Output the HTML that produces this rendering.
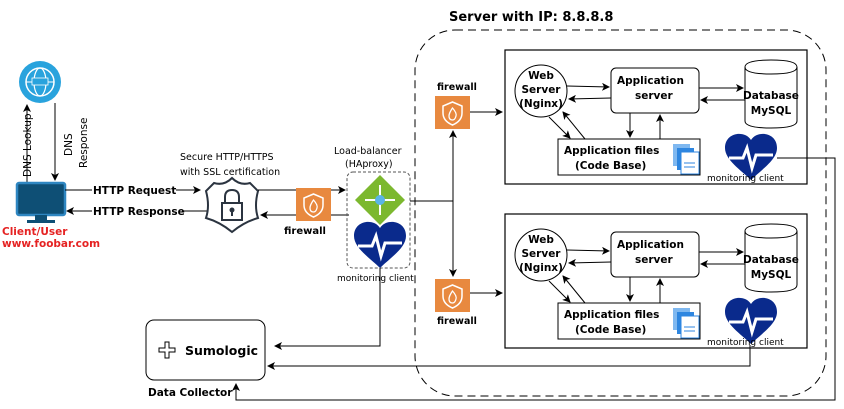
<!DOCTYPE html>
<html><head><meta charset="utf-8"><style>
html,body{margin:0;padding:0;background:#fff;}
svg{display:block;}
text{font-family:"DejaVu Sans","Liberation Sans",sans-serif;font-size:10px;fill:#000;}
.b{font-weight:bold;}
</style></head><body>
<svg width="844" height="409" viewBox="0 0 844 409" xmlns="http://www.w3.org/2000/svg">
<defs>
<marker id="a" markerWidth="8" markerHeight="8" refX="7" refY="4" orient="auto" markerUnits="userSpaceOnUse"><path d="M0,0 L8,4 L0,8 L2,4 z" fill="#000"/></marker>
<g id="fw"><rect x="0" y="0" width="35" height="33" fill="#e8893f"/><path d="M17.5,6 L27,10 L27,17 Q27,25 17.5,29 Q8,25 8,17 L8,10 Z" fill="none" stroke="#fff" stroke-width="1.5"/><path d="M17.5,12 Q22,17 21,20 Q20,24 17.5,24 Q14,24 14,20 Q14,17 17.5,12 Z" fill="none" stroke="#fff" stroke-width="1.3"/></g>
<g id="heart"><path d="M0,-14 C-6,-24 -26,-22 -26,-6 C-26,6 -10,16 0,26 C10,16 26,6 26,-6 C26,-22 6,-24 0,-14 Z" fill="#0a2a8c"/><path d="M-22,4 L-8,4 L-4,-6 L1,14 L5,1 L22,1" fill="none" stroke="#fff" stroke-width="3"/></g>
<g id="srv">
<rect x="0" y="0" width="302" height="134" fill="#fff" stroke="#000" stroke-width="1.2"/>
<circle cx="36" cy="41" r="26" fill="#fff" stroke="#000"/>
<text x="36" y="29" text-anchor="middle" class="b" style="font-size:10.5px">Web</text>
<text x="36" y="43" text-anchor="middle" class="b" style="font-size:10.5px">Server</text>
<text x="36" y="57" text-anchor="middle" class="b" style="font-size:10.5px">(Nginx)</text>
<rect x="106" y="18" width="88" height="45" rx="5" fill="#fff" stroke="#000"/>
<text x="112" y="34" class="b" style="font-size:10.5px">Application</text>
<text x="130" y="49" class="b" style="font-size:10.5px">server</text>
<path d="M240,17 Q240,10 266,10 Q292,10 292,17 L292,71 Q292,78 266,78 Q240,78 240,71 Z" fill="#fff" stroke="#000"/>
<path d="M240,17 Q240,24 266,24 Q292,24 292,17" fill="none" stroke="#000"/>
<text x="266" y="49" text-anchor="middle" class="b" style="font-size:10.5px">Database</text>
<text x="266" y="64" text-anchor="middle" class="b" style="font-size:10.5px">MySQL</text>
<rect x="53" y="89" width="142" height="36" fill="#fff" stroke="#000"/>
<text x="59" y="104" class="b" style="font-size:10.5px">Application files</text>
<text x="70" y="119" class="b" style="font-size:10.5px">(Code Base)</text>
<rect x="168" y="94" width="17" height="22" fill="#7fb8f0"/><rect x="172" y="98" width="17" height="22" fill="#2e86e0"/><rect x="176" y="102" width="18" height="22" fill="#fff" stroke="#2e86e0"/><line x1="179" y1="113" x2="190" y2="113" stroke="#2e86e0"/><line x1="179" y1="117" x2="190" y2="117" stroke="#2e86e0"/>
<line x1="62" y1="36" x2="104" y2="37" stroke="#000" marker-end="url(#a)"/>
<line x1="106" y1="48" x2="64" y2="49" stroke="#000" marker-end="url(#a)"/>
<line x1="194" y1="38" x2="238" y2="38" stroke="#000" marker-end="url(#a)"/>
<line x1="240" y1="50" x2="196" y2="50" stroke="#000" marker-end="url(#a)"/>
<line x1="125" y1="63" x2="125" y2="87" stroke="#000" marker-end="url(#a)"/>
<line x1="155" y1="89" x2="155" y2="65" stroke="#000" marker-end="url(#a)"/>
<line x1="44" y1="67" x2="65" y2="88" stroke="#000" marker-end="url(#a)"/>
<line x1="80" y1="89" x2="58" y2="62" stroke="#000" marker-end="url(#a)"/>
<use href="#heart" x="246" y="104"/>
<text x="202" y="131" style="font-size:9px">monitoring client</text>
</g>
</defs>

<text x="449" y="21" style="font-size:13px" class="b">Server with IP: 8.8.8.8</text>
<rect x="415" y="30" width="411" height="366" rx="40" fill="none" stroke="#000" stroke-dasharray="8,5"/>
<use href="#srv" x="505" y="50"/>
<use href="#srv" x="505" y="214"/>

<use href="#fw" x="435" y="96"/>
<text x="437" y="90" class="b" style="font-size:9.5px">firewall</text>
<line x1="470" y1="112" x2="502" y2="112" stroke="#000" marker-end="url(#a)"/>
<use href="#fw" x="435" y="279"/>
<text x="437" y="324" class="b" style="font-size:9.5px">firewall</text>
<line x1="470" y1="293" x2="502" y2="293" stroke="#000" marker-end="url(#a)"/>
<line x1="453" y1="201" x2="453" y2="131" stroke="#000" marker-end="url(#a)"/>
<line x1="453" y1="201" x2="453" y2="276" stroke="#000" marker-end="url(#a)"/>
<line x1="410" y1="201" x2="453" y2="201" stroke="#000"/>

<!-- DNS -->
<circle cx="40" cy="82" r="21" fill="#29a3dd"/>
<circle cx="40" cy="82" r="14" fill="none" stroke="#fff" stroke-width="1.5"/>
<ellipse cx="40" cy="82" rx="6" ry="14" fill="none" stroke="#fff" stroke-width="1.2"/>
<line x1="26" y1="82" x2="54" y2="82" stroke="#fff"/>
<rect x="32" y="78" width="16" height="7" fill="#29a3dd" stroke="#fff" stroke-width="0.8"/>
<line x1="27" y1="182" x2="27" y2="105" stroke="#000" marker-end="url(#a)"/>
<line x1="55" y1="103" x2="55" y2="180" stroke="#000" marker-end="url(#a)"/>
<text transform="translate(31,177) rotate(-90)" style="font-size:10.5px">DNS Lookup</text>
<text transform="translate(72,156) rotate(-90)" style="font-size:10.5px">DNS</text>
<text transform="translate(87,168) rotate(-90)" style="font-size:10.5px">Response</text>

<!-- client -->
<rect x="17" y="183" width="48" height="32" rx="2" fill="#0e4f75" stroke="#2e86c1" stroke-width="2.5"/>
<rect x="35" y="215" width="12" height="6" fill="#0e4f75"/><rect x="27" y="220" width="28" height="3" fill="#0e4f75"/>
<text x="2" y="235" class="b" style="fill:#e52222;font-size:10.5px">Client/User</text>
<text x="2" y="247" class="b" style="fill:#e52222;font-size:10.5px">www.foobar.com</text>

<line x1="65" y1="190" x2="200" y2="190" stroke="#000" marker-end="url(#a)"/>
<rect x="92" y="183" width="84" height="13" fill="#fff"/>
<text x="93" y="194" class="b" style="font-size:10.5px">HTTP Request</text>
<line x1="207" y1="211" x2="67" y2="211" stroke="#000" marker-end="url(#a)"/>
<rect x="92" y="204" width="90" height="13" fill="#fff"/>
<text x="93" y="215" class="b" style="font-size:10.5px">HTTP Response</text>

<!-- shield -->
<path d="M214,183 Q224,186 232,178 Q240,186 250,183 L258,191 Q254,206 258,218 Q244,222 232,232 Q220,222 206,218 Q210,206 206,191 Z" fill="#fff" stroke="#2b3440" stroke-width="2"/>
<rect x="222" y="203" width="20" height="17" fill="#fff" stroke="#2b3440" stroke-width="2"/>
<path d="M225,203 L225,197 Q225,190 232,190 Q239,190 239,197 L239,203" fill="none" stroke="#2b3440" stroke-width="2"/>
<circle cx="232" cy="210" r="2.5" fill="#2b3440"/><line x1="232" y1="210" x2="232" y2="216" stroke="#2b3440" stroke-width="2"/>
<text x="180" y="160" style="font-size:9.5px">Secure HTTP/HTTPS</text>
<text x="180" y="175" style="font-size:9.5px">with SSL certification</text>

<line x1="258" y1="190" x2="345" y2="190" stroke="#000" marker-end="url(#a)"/>
<line x1="349" y1="215" x2="261" y2="215" stroke="#000" marker-end="url(#a)"/>
<use href="#fw" x="296" y="188"/>
<text x="284" y="234" class="b" style="font-size:10px">firewall</text>

<!-- LB -->
<text x="334" y="154" style="font-size:9.5px">Load-balancer</text>
<text x="345" y="167" style="font-size:9.5px">(HAproxy)</text>
<rect x="347" y="172" width="63" height="96" rx="6" fill="none" stroke="#555" stroke-dasharray="3,2"/>
<path d="M380,175 L405,200 L380,225 L355,200 Z" fill="#7cb82f"/>
<path d="M365,200 L395,200 M380,185 L380,215" stroke="#fff" stroke-width="2"/>
<circle cx="380" cy="200" r="5" fill="#5ab4e6"/>
<use href="#heart" x="380" y="242"/>
<text x="337" y="281" style="font-size:9px">monitoring client</text>

<!-- sumologic -->
<rect x="146" y="320" width="119" height="60" rx="8" fill="#fff" stroke="#000"/>
<path d="M159,348 h6 v-6 h4 v6 h6 v4 h-6 v6 h-4 v-6 h-6 z" fill="none" stroke="#000"/>
<text x="185" y="355" class="b" style="font-size:12.5px">Sumologic</text>
<text x="148" y="396" class="b" style="font-size:10.5px">Data Collector</text>

<polyline points="380,268 380,346 275,346" fill="none" stroke="#000" marker-end="url(#a)"/>
<polyline points="750,345 750,366 268,366" fill="none" stroke="#000" marker-end="url(#a)"/>
<polyline points="777,158 835,158 835,400 236,400 236,384" fill="none" stroke="#000" marker-end="url(#a)"/>
</svg>
</body></html>
